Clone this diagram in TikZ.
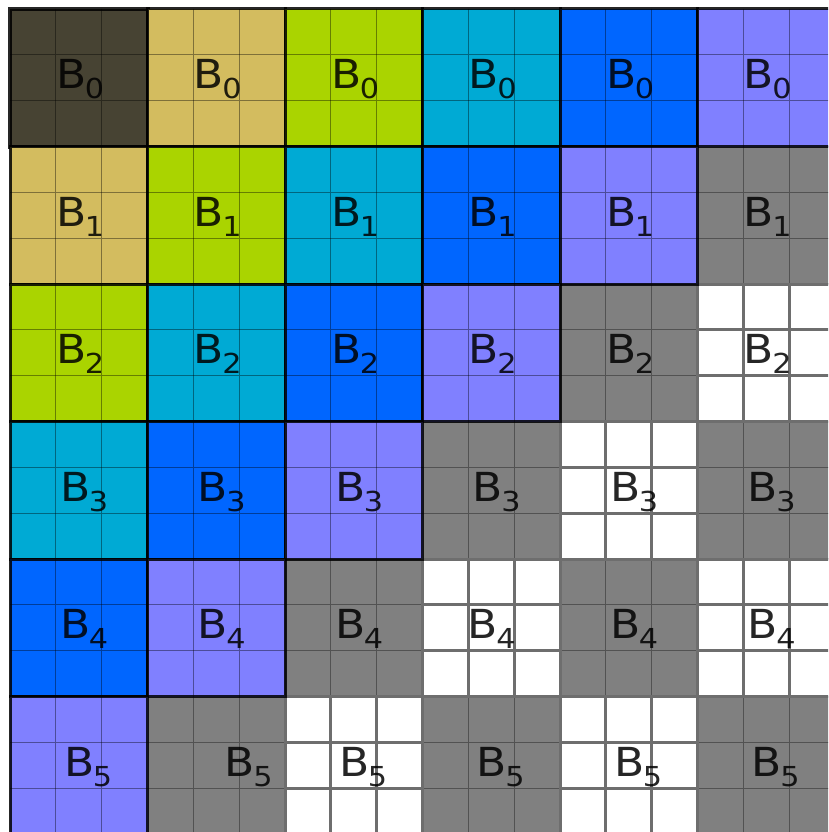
\documentclass[tikz,border=0pt]{standalone}
\usepackage{fontspec}
\setmainfont{DejaVu Sans}[FakeStretch=1.1]
\definecolor{blkdark}{HTML}{474333}
\definecolor{blktan}{HTML}{D3BC5F}
\definecolor{blklime}{HTML}{AAD400}
\definecolor{blkcyan}{HTML}{00AAD4}
\definecolor{blkblue}{HTML}{0066FF}
\definecolor{blklav}{HTML}{8080FF}
\definecolor{blkgray}{HTML}{808080}

\begin{document}
\begin{tikzpicture}[x=1pt, y=-1pt,
  blockedge/.style={draw=black, draw opacity=0.85, line width=3pt},
  cellline/.style={draw=black, draw opacity=0.4, line width=1.2pt},
  grayline/.style={draw=black!68, line width=1.3pt},
  whiteline/.style={draw=black!57, line width=3pt},
  blocklabel/.style={anchor=base west, inner sep=0pt, font=\fontsize{40}{40}\selectfont,
               text=black, text opacity=0.85},
]
\useasboundingbox (0,0) rectangle (828,832);
\fill[white] (0,0) rectangle (828,832);
\clip (0,0) rectangle (828,832);

% pass 1: grey blocks, pass 2: white blocks, pass 3: coloured blocks
\foreach \pass in {1,2,3} {
  \foreach \r in {0,...,5} {
    \foreach \c in {0,...,5} {
      \pgfmathtruncatemacro\k{\r+\c}
      \pgfmathtruncatemacro\kind{\k<6 ? 3 : (mod(\k,2)==0 ? 1 : 2)}
      \pgfmathsetmacro\xa{10+\c*137.5}
      \pgfmathsetmacro\ya{9+\r*137.5}
      \pgfmathsetmacro\xb{\xa+137.5}
      \pgfmathsetmacro\yb{\ya+137.5}
      \ifnum\kind=\pass
        \ifcase\kind
        \or % grey
          \fill[blkgray] (\xa,\ya) rectangle (\xb,\yb);
          \foreach \f in {0,...,3}
            \draw[grayline] (\xa+\f*45.833,\ya) -- (\xa+\f*45.833,\yb)
                            (\xa,\ya+\f*45.833) -- (\xb,\ya+\f*45.833);
        \or % white
          \fill[white] (\xa,\ya) rectangle (\xb,\yb);
          \foreach \f in {0,...,3}
            \draw[whiteline] (\xa+\f*45.833,\ya) -- (\xa+\f*45.833,\yb)
                             (\xa,\ya+\f*45.833) -- (\xb,\ya+\f*45.833);
        \or % coloured
          \ifcase\k \def\blkcol{blkdark}\or \def\blkcol{blktan}\or \def\blkcol{blklime}%
          \or \def\blkcol{blkcyan}\or \def\blkcol{blkblue}\or \def\blkcol{blklav}\fi
          \fill[\blkcol] (\xa,\ya) rectangle (\xb,\yb);
          \foreach \f in {1,2}
            \draw[cellline] (\xa+\f*45.833,\ya) -- (\xa+\f*45.833,\yb)
                            (\xa,\ya+\f*45.833) -- (\xb,\ya+\f*45.833);
          \ifnum\k=0
            \draw[blockedge, line width=4pt] (\xa,\ya) rectangle (\xb,\yb);
          \else
            \draw[blockedge] (\xa,\ya) rectangle (\xb,\yb);
          \fi
        \fi
      \fi
    }
  }
}

% labels
\foreach \r/\off in {0/46, 1/46, 2/46, 3/50, 4/50, 5/54} {
  \foreach \c in {0,...,5} {
    \pgfmathsetmacro\xl{10+\c*137.5+\off}
    \ifnum\r\c=51 \pgfmathsetmacro\xl{10+137.5+77}\fi
    \ifnum\r\c=43 \pgfmathsetmacro\xl{10+3*137.5+45}\fi
    \node[blocklabel] (lbl-\r-\c) at (\xl, 9+\r*137.5+79.5)
      {B\kern-1.5pt\raisebox{-10pt}{\fontsize{27.5}{28}\selectfont\r}};
  }
}

\end{tikzpicture}
\end{document}
